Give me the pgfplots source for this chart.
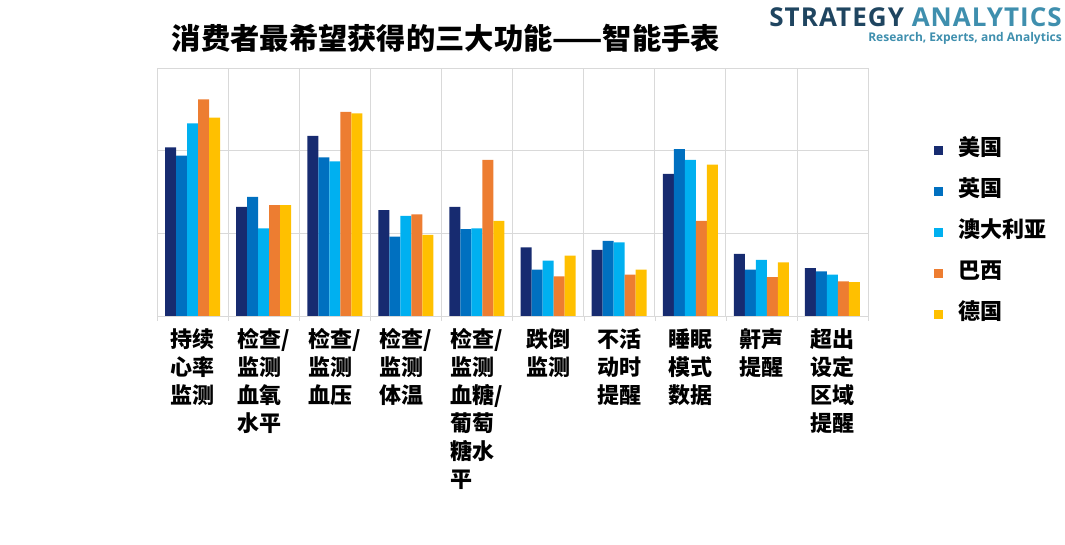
\documentclass[border=0pt]{standalone}
\usepackage{fontspec}
\usepackage{pgfplots}
\pgfplotsset{compat=1.18}
\newfontfamily\cjk{Noto Sans CJK SC}
\newfontfamily\logofont{Open Sans}
\newfontfamily\logowide{Open Sans}[LetterSpace=4]
\definecolor{cUS}{HTML}{172B70}
\definecolor{cUK}{HTML}{0070C0}
\definecolor{cAU}{HTML}{00B0F0}
\definecolor{cBR}{HTML}{ED7D31}
\definecolor{cDE}{HTML}{FFC000}
\definecolor{gridgray}{HTML}{D9D9D9}
\definecolor{logodark}{HTML}{1F4560}
\definecolor{logolight}{HTML}{3F8FAE}
\pgfplotsset{sqleg/.style={legend image code/.code={\fill[##1,draw=none] (0pt,-4.5pt) rectangle (9pt,4.5pt);}}}
\begin{document}
\begin{tikzpicture}
\path[use as bounding box] (0,0) rectangle (1065pt,545pt);
\node[font=\cjk\bfseries\fontsize{29.3}{32}\selectfont] at (446pt,507pt) {消费者最希望获得的三大功能——智能手表};
\node[anchor=east, font=\logowide\bfseries\fontsize{26}{28}\selectfont, inner sep=0pt] at (1062pt,528pt) {\textcolor{logodark}{STRATEGY} \textcolor{logolight}{ANALYTICS}};
\node[anchor=east, font=\logofont\bfseries\fontsize{12}{14}\selectfont, text=logolight, inner sep=0pt] at (1062pt,507pt) {Research, Experts, and Analytics};
\begin{axis}[
  at={(157pt,229pt)}, anchor=south west,
  scale only axis, width=711pt, height=248pt,
  ybar=0pt, bar width=11pt,
  xmin=-0.5, xmax=9.5, ymin=0, ymax=3,
  ytick={1,2,3}, yticklabels={}, ymajorgrids,
  ytick style={draw=none},
  xtick={0,...,9},
  xticklabels={{持续\\心率\\监测},{检查/\\监测\\血氧\\水平},{检查/\\监测\\血压},{检查/\\监测\\体温},{检查/\\监测\\血糖/\\葡萄\\糖水\\平},{跌倒\\监测},{不活\\动时\\提醒},{睡眠\\模式\\数据},{鼾声\\提醒},{超出\\设定\\区域\\提醒}},
  minor xtick={-0.5,0.5,...,9.5}, xminorgrids,
  major x tick style={draw=none},
  minor tick length=5pt, tick align=outside, xtick pos=bottom, ytick pos=left,
  tick style={gridgray},
  grid style={gridgray, line width=0.8pt},
  minor grid style={gridgray, line width=0.8pt},
  axis line style={gridgray, line width=0.8pt},
  x tick label style={font=\cjk\bfseries\fontsize{22}{28}\selectfont, align=left, anchor=north, yshift=-5pt},
  legend style={at={(1.093,0.711)}, anchor=north west, draw=none, fill=none, inner sep=0pt,
    font=\cjk\bfseries\fontsize{22}{24}\selectfont, row sep=19pt, column sep=13pt, legend cell align=left,
    nodes={text height=14pt, text depth=4pt, inner sep=2pt}},
]
\addplot[fill=cUS, draw=none, sqleg] coordinates {(0,2.04) (1,1.32) (2,2.18) (3,1.28) (4,1.32) (5,0.83) (6,0.80) (7,1.72) (8,0.75) (9,0.58)};
\addlegendentry{美国}
\addplot[fill=cUK, draw=none, sqleg] coordinates {(0,1.94) (1,1.44) (2,1.92) (3,0.96) (4,1.05) (5,0.56) (6,0.91) (7,2.02) (8,0.56) (9,0.54)};
\addlegendentry{英国}
\addplot[fill=cAU, draw=none, sqleg] coordinates {(0,2.33) (1,1.06) (2,1.87) (3,1.21) (4,1.06) (5,0.67) (6,0.89) (7,1.89) (8,0.68) (9,0.50)};
\addlegendentry{澳大利亚}
\addplot[fill=cBR, draw=none, sqleg] coordinates {(0,2.62) (1,1.34) (2,2.47) (3,1.23) (4,1.89) (5,0.48) (6,0.50) (7,1.15) (8,0.47) (9,0.42)};
\addlegendentry{巴西}
\addplot[fill=cDE, draw=none, sqleg] coordinates {(0,2.40) (1,1.34) (2,2.45) (3,0.98) (4,1.15) (5,0.73) (6,0.56) (7,1.83) (8,0.65) (9,0.41)};
\addlegendentry{德国}
\end{axis}
\end{tikzpicture}
\end{document}
